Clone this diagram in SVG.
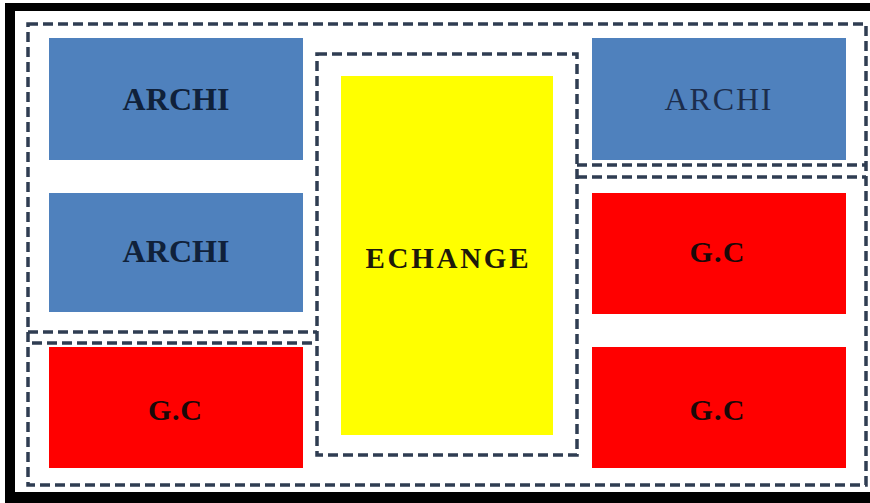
<svg xmlns="http://www.w3.org/2000/svg" width="870" height="503" viewBox="0 0 870 503">
  <style>
    .dash { fill: none; stroke: #2f3d52; stroke-width: 3.5; stroke-dasharray: 10 5; }
    .blue { fill: #4f81bd; }
    .red { fill: #ff0000; }
    .yellow { fill: #ffff00; }
    .lbl { font-family: "Liberation Serif", "Times New Roman", serif; font-weight: bold; text-anchor: middle; }
    .archi { font-size: 32px; fill: #10213a; }
    .archi2 { font-size: 32px; fill: #1c2d4c; font-weight: normal; }
    .gc { font-size: 30px; fill: #1a0808; }
    .ech { font-size: 29px; fill: #1e1a0a; }
  </style>
  <rect x="0" y="0" width="870" height="503" fill="#ffffff"/>
  <g id="frame">
    <rect x="5" y="3" width="880" height="510" fill="#000000"/>
    <rect x="15" y="11" width="870" height="481" fill="#ffffff"/>
  </g>

  <g id="archi-top-left">
    <rect class="blue" x="49" y="38" width="254" height="122"/>
    <text class="lbl archi" x="176" y="110" textLength="107" lengthAdjust="spacing">ARCHI</text>
  </g>
  <g id="archi-mid-left">
    <rect class="blue" x="49" y="193" width="254" height="119"/>
    <text class="lbl archi" x="176" y="262" textLength="107" lengthAdjust="spacing">ARCHI</text>
  </g>
  <g id="gc-bottom-left">
    <rect class="red" x="49" y="347" width="254" height="121"/>
    <text class="lbl gc" x="175" y="420" textLength="54" lengthAdjust="spacing">G.C</text>
  </g>
  <g id="echange">
    <rect class="yellow" x="341" y="76" width="212" height="359"/>
    <text class="lbl ech" x="447" y="268" textLength="163" lengthAdjust="spacing">ECHANGE</text>
  </g>
  <g id="archi-top-right">
    <rect class="blue" x="592" y="38" width="254" height="122"/>
    <text class="lbl archi2" x="718" y="110" textLength="107" lengthAdjust="spacing">ARCHI</text>
  </g>
  <g id="gc-mid-right">
    <rect class="red" x="592" y="193" width="254" height="121"/>
    <text class="lbl gc" x="717" y="262" textLength="55" lengthAdjust="spacing">G.C</text>
  </g>
  <g id="gc-bottom-right">
    <rect class="red" x="592" y="347" width="254" height="121"/>
    <text class="lbl gc" x="717" y="420" textLength="55" lengthAdjust="spacing">G.C</text>
  </g>

  <g id="zones">
    <rect class="dash" x="28" y="24" width="838" height="461"/>
    <path class="dash" d="M28,332 H317"/>
    <path class="dash" d="M32,343 H316"/>
    <rect class="dash" x="317" y="54" width="260" height="401"/>
    <path class="dash" d="M577,165 H866"/>
    <path class="dash" d="M577,177 H866"/>
  </g>
</svg>
